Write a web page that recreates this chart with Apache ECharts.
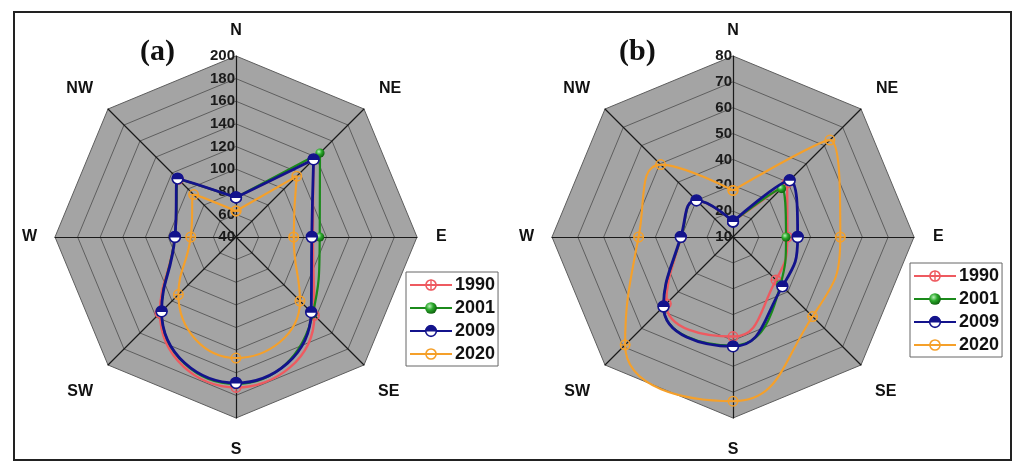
<!DOCTYPE html>
<html><head><meta charset="utf-8">
<script src="https://cdn.jsdelivr.net/npm/echarts@6/dist/echarts.min.js"></script>
<style>html,body{margin:0;padding:0;background:#fff}#c{width:1024px;height:469px}</style>
</head><body><div id="c"></div>
<script>
// ---- data ----
const directions = ['N', 'NE', 'E', 'SE', 'S', 'SW', 'W', 'NW']; // clockwise from North
const years = ['1990', '2001', '2009', '2020'];
const panelLabels = ['(a)', '(b)'];
const scaleA = { min: 40, max: 200, step: 20 };
const scaleB = { min: 10, max: 80, step: 10 };
// panel (a)
const a1990 = [75, 137, 108, 138, 173, 135, 94, 112];
const a2001 = [75, 145, 114, 136, 170, 133, 94, 112];
const a2009 = [75, 137, 107, 134, 169, 133, 94, 113];
const a2020 = [63, 116, 91, 120, 147, 112, 80, 93];
// panel (b)
const b1990 = [16, 39.5, 31, 33.5, 48.5, 46.5, 30, 30];
const b2001 = [16, 36.5, 30.5, 36, 52, 48, 30, 30];
const b2009 = [16, 41, 35, 37, 52.3, 48, 30.2, 30];
const b2020 = [28, 63, 51.5, 53.5, 73.5, 69, 46.5, 49.6];

// ---- styles ----
const colors = { '1990': '#ee5a60', '2001': '#1b8a1b', '2009': '#13138c', '2020': '#f5a02a' };
const widths = { '1990': 2.4, '2001': 2.2, '2009': 2.8, '2020': 2.1 };
function svgUri(s) { return 'image://data:image/svg+xml;charset=utf-8,' + encodeURIComponent(s); }
const symbols = {
  '1990': svgUri("<svg xmlns='http://www.w3.org/2000/svg' width='24' height='24' viewBox='0 0 24 24'><circle cx='12' cy='12' r='9.5' fill='none' stroke='#ee5a60' stroke-width='3'/><line x1='12' y1='2' x2='12' y2='22' stroke='#ee5a60' stroke-width='2.6'/><line x1='2' y1='12' x2='22' y2='12' stroke='#ee5a60' stroke-width='2.6'/></svg>"),
  '2001': svgUri("<svg xmlns='http://www.w3.org/2000/svg' width='24' height='24' viewBox='0 0 24 24'><defs><radialGradient id='g' cx='0.38' cy='0.35' r='0.7'><stop offset='0' stop-color='#b8f0b8'/><stop offset='0.45' stop-color='#2aa82a'/><stop offset='1' stop-color='#0b5a0b'/></radialGradient></defs><circle cx='12' cy='12' r='11' fill='url(#g)'/></svg>"),
  '2009': svgUri("<svg xmlns='http://www.w3.org/2000/svg' width='24' height='24' viewBox='0 0 24 24'><circle cx='12' cy='12' r='10' fill='#ffffff' stroke='#13138c' stroke-width='3'/><path d='M1 13 A11 11 0 0 1 23 13 Z' fill='#13138c'/></svg>"),
  '2020': svgUri("<svg xmlns='http://www.w3.org/2000/svg' width='24' height='24' viewBox='0 0 24 24'><circle cx='12' cy='12' r='9.5' fill='none' stroke='#f5a02a' stroke-width='3'/><line x1='2' y1='12' x2='22' y2='12' stroke='#f5a02a' stroke-width='2.6'/></svg>")
};
const symSize = { '1990': 12, '2001': 10, '2009': 13, '2020': 12 };

const panels = [
  { cx: 236, cy: 237, r: 181, scale: scaleA, data: [a1990, a2001, a2009, a2020], label: panelLabels[0], labelPos: [140, 37], legendPos: [406, 272] },
  { cx: 733, cy: 237, r: 181, scale: scaleB, data: [b1990, b2001, b2009, b2020], label: panelLabels[1], labelPos: [619, 37], legendPos: [910, 263] }
];

const fontSans = "'Liberation Sans', Arial, sans-serif";
// radar indicators run counter-clockwise in ECharts: N, NW, W, SW, S, SE, E, NE
const ccwOrder = [0, 7, 6, 5, 4, 3, 2, 1];
const nameStyle = { color: '#111', fontSize: 16, fontWeight: 'bold', fontFamily: fontSans };
const nameRich = {
  n: Object.assign({ padding: [0, 0, 0, 0] }, nameStyle),
  ne: Object.assign({ padding: [0, 0, 16, 3] }, nameStyle),
  e: Object.assign({ padding: [0, 0, 0, 2] }, nameStyle),
  se: Object.assign({ padding: [29, 0, 0, 2] }, nameStyle),
  s: Object.assign({ padding: [7, 0, 0, 0] }, nameStyle),
  sw: Object.assign({ padding: [29, 3, 0, 0] }, nameStyle),
  w: Object.assign({ padding: [0, 1, 0, 0] }, nameStyle),
  nw: Object.assign({ padding: [0, 3, 16, 0] }, nameStyle)
};

const radar = [], polar = [], angleAxis = [], radiusAxis = [], series = [], legend = [], title = [];
panels.forEach((p, pi) => {
  const splits = (p.scale.max - p.scale.min) / p.scale.step;
  radar.push({
    center: [p.cx, p.cy], radius: p.r, startAngle: 90, shape: 'polygon', splitNumber: splits,
    indicator: ccwOrder.map((k, j) => {
      const ind = { name: directions[k], min: p.scale.min, max: p.scale.max };
      if (j === 0) ind.axisLabel = { show: true };
      return ind;
    }),
    axisName: Object.assign({ formatter: (name) => '{' + name.toLowerCase() + '|' + name + '}', rich: nameRich }, nameStyle),
    axisNameGap: 17,
    axisLine: { lineStyle: { color: '#1a1a1a', width: 1.2 } },
    axisTick: { show: false },
    axisLabel: { show: false, color: '#1a1a1a', fontSize: 15, fontWeight: 'bold', fontFamily: fontSans, margin: 1, showMinLabel: true, showMaxLabel: true },
    splitLine: { lineStyle: { color: '#5e5e5e', width: 1 } },
    splitArea: { show: true, areaStyle: { color: ['#a4a4a4'] } }
  });
  polar.push({ center: [p.cx, p.cy], radius: p.r });
  angleAxis.push({ polarIndex: pi, type: 'value', min: 0, max: 360, startAngle: 90, clockwise: true, show: false });
  radiusAxis.push({ polarIndex: pi, type: 'value', min: p.scale.min, max: p.scale.max, show: false });
  years.forEach((y, yi) => {
    const vals = p.data[yi];
    const pts = vals.map((v, i) => [v, i * 360 / directions.length]);
    pts.push([vals[0], 360]);
    series.push({
      type: 'line', name: y, coordinateSystem: 'polar', polarIndex: pi,
      data: pts, smooth: 0.5, clip: false,
      symbol: symbols[y], symbolSize: symSize[y], showAllSymbol: true,
      lineStyle: { color: colors[y], width: widths[y] },
      itemStyle: { color: colors[y] },
      z: 3 + yi
    });
  });
  legend.push({
    data: years, orient: 'vertical', left: p.legendPos[0], top: p.legendPos[1],
    borderColor: '#666', borderWidth: 1, padding: [4, 3, 3, 3], itemGap: 5,
    itemWidth: 42, itemHeight: 16,
    textStyle: { color: '#111', fontSize: 18, fontWeight: 'bold', fontFamily: fontSans, padding: [0, 0, 0, -2] }
  });
  title.push({
    text: p.label, left: p.labelPos[0], top: p.labelPos[1], padding: 0,
    textStyle: { fontFamily: "'Liberation Serif', 'Times New Roman', serif", fontSize: 30, fontWeight: 'bold', color: '#111' }
  });
});

const chart = echarts.init(document.getElementById('c'), null, { renderer: 'canvas' });
chart.setOption({
  animation: false,
  backgroundColor: '#ffffff',
  title, radar, polar, angleAxis, radiusAxis, legend, series,
  graphic: [{ type: 'rect', shape: { x: 14, y: 12, width: 997, height: 448 }, style: { fill: 'none', stroke: '#222', lineWidth: 2 }, z: 100 }]
});
</script>
</body></html>
